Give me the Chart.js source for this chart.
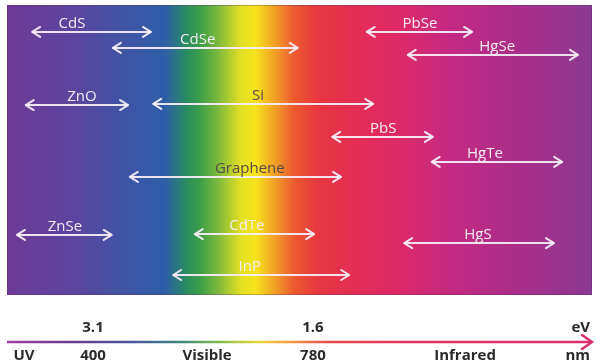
<!DOCTYPE html>
<html>
<head>
<meta charset="utf-8">
<script src="https://cdn.jsdelivr.net/npm/chart.js@4.4.1/dist/chart.umd.min.js"></script>
<style>
  html, body { margin: 0; padding: 0; background: #fff; }
  #wrap { width: 600px; height: 364px; position: relative; }
</style>
</head>
<body>
<div id="wrap"><canvas id="chart"></canvas></div>
<script>
// materials and their absorption ranges (x: 0 = UV edge, 100 = far IR edge)
const materials = ["CdS", "CdSe", "ZnO", "Si", "PbSe", "HgSe", "PbS", "HgTe", "Graphene", "ZnSe", "CdTe", "HgS", "InP"];
const rangeStart = [4.3, 18.1, 3.2, 25.0, 61.5, 68.5, 55.6, 72.6, 21.0, 1.7, 32.1, 67.9, 28.4];
const rangeEnd = [24.6, 49.7, 20.7, 62.6, 79.5, 97.6, 72.8, 94.9, 57.1, 17.9, 52.5, 93.5, 58.5];
const rowLevel = [9.3, 14.8, 34.5, 34.1, 9.3, 17.2, 45.5, 54.1, 59.3, 79.3, 79.0, 82.1, 93.1];
const labelAt = [11.1, 32.6, 12.8, 42.9, 70.6, 83.8, 64.3, 81.7, 41.5, 9.9, 41.0, 80.5, 41.5];

// bottom axis
const tickAt = [14.7, 52.3];
const eVTicks = ["3.1", "1.6"];
const nmTicks = ["400", "780"];
const regions = ["UV", "Visible", "Infrared"];
const regionAt = [2.9, 34.2, 78.3];

const darkLabels = ["Si", "Graphene"];

const specStops = [
  [0.0, "#6d3a96"], [0.12, "#5a459e"], [0.2, "#3f54a4"], [0.27, "#2d5ea9"],
  [0.305, "#2a8a63"], [0.33, "#3c9f47"], [0.36, "#7ab83c"], [0.4, "#e4e023"],
  [0.425, "#f6e31c"], [0.45, "#f3b023"], [0.49, "#ec5b30"], [0.53, "#e6383f"],
  [0.6, "#e42c57"], [0.67, "#dc2a68"], [0.76, "#c42a82"], [0.88, "#a82e8b"],
  [1.0, "#8a3a92"]
];
const axisStops = [
  [0.0, "#a0409c"], [0.1, "#6c3a92"], [0.22, "#4a56a0"], [0.3, "#3a8a78"],
  [0.37, "#8cc048"], [0.43, "#ead83a"], [0.48, "#f0a040"], [0.55, "#e6484a"],
  [0.7, "#e2305e"], [1.0, "#d83070"]
];

const arrowColor = "rgba(246,236,246,0.95)";

const datasets = materials.map((m, i) => ({
  label: m,
  data: [{ x: rangeStart[i], y: rowLevel[i] }, { x: rangeEnd[i], y: rowLevel[i] }],
  borderColor: arrowColor,
  borderWidth: 2,
  pointRadius: 0,
  showLine: true,
}));

const spectrumPlugin = {
  id: "spectrum",
  beforeDatasetsDraw(chart) {
    const { ctx, chartArea: a } = chart;
    const g = ctx.createLinearGradient(a.left, 0, a.right, 0);
    specStops.forEach(([p, c]) => g.addColorStop(p, c));
    ctx.save();
    ctx.fillStyle = g;
    ctx.fillRect(a.left, a.top, a.right - a.left, a.bottom - a.top);
    ctx.strokeStyle = "rgba(90,40,90,0.35)";
    ctx.lineWidth = 1;
    ctx.strokeRect(a.left + 0.5, a.top + 0.5, a.right - a.left - 1, a.bottom - a.top - 1);
    ctx.restore();
  },
  afterDatasetsDraw(chart) {
    const { ctx } = chart;
    ctx.save();
    ctx.lineWidth = 2;
    ctx.lineCap = "round";
    ctx.lineJoin = "round";
    ctx.strokeStyle = arrowColor;
    chart.data.datasets.forEach((ds, i) => {
      const pts = chart.getDatasetMeta(i).data;
      const p0 = pts[0], p1 = pts[1];
      ctx.beginPath();
      ctx.moveTo(p0.x + 8, p0.y - 5);
      ctx.lineTo(p0.x, p0.y);
      ctx.lineTo(p0.x + 8, p0.y + 5);
      ctx.moveTo(p1.x - 8, p1.y - 5);
      ctx.lineTo(p1.x, p1.y);
      ctx.lineTo(p1.x - 8, p1.y + 5);
      ctx.stroke();
      const lx = chart.scales.x.getPixelForValue(labelAt[i]);
      ctx.font = "15px 'Open Sans'";
      ctx.textAlign = "center";
      ctx.textBaseline = "alphabetic";
      ctx.fillStyle = darkLabels.includes(ds.label) ? "#5a4a4a" : "#f4ecf2";
      ctx.fillText(ds.label, lx, p0.y - 4);
    });
    ctx.restore();
  },
  afterDraw(chart) {
    const { ctx, chartArea: a } = chart;
    const x = chart.scales.x;
    const lineY = a.bottom + 47;
    const x0 = x.getPixelForValue(0), x1 = x.getPixelForValue(100);
    const g = ctx.createLinearGradient(x0, 0, x1, 0);
    axisStops.forEach(([p, c]) => g.addColorStop(p, c));
    ctx.save();
    ctx.strokeStyle = g;
    ctx.lineWidth = 2.5;
    ctx.beginPath();
    ctx.moveTo(x0, lineY);
    ctx.lineTo(x1 - 1, lineY);
    ctx.stroke();
    ctx.strokeStyle = "#d83070";
    ctx.lineWidth = 2.5;
    ctx.lineCap = "round";
    ctx.beginPath();
    ctx.moveTo(x1 - 10, lineY - 7);
    ctx.lineTo(x1, lineY);
    ctx.lineTo(x1 - 10, lineY + 7);
    ctx.stroke();

    ctx.font = "bold 15px 'Open Sans'";
    ctx.fillStyle = "#2a2a2a";
    ctx.textBaseline = "alphabetic";
    ctx.textAlign = "center";
    tickAt.forEach((v, i) => {
      const px = x.getPixelForValue(v);
      ctx.fillText(eVTicks[i], px, lineY - 10);
      ctx.fillText(nmTicks[i], px, lineY + 18);
    });
    regions.forEach((r, i) => {
      ctx.fillText(r, x.getPixelForValue(regionAt[i]), lineY + 18);
    });
    ctx.textAlign = "right";
    ctx.fillText("eV", x1 - 2, lineY - 10);
    ctx.fillText("nm", x1 - 2, lineY + 18);
    ctx.restore();
  }
};

new Chart(document.getElementById("chart"), {
  type: "scatter",
  data: { datasets },
  options: {
    responsive: true,
    maintainAspectRatio: false,
    animation: false,
    layout: { padding: { left: 7, right: 8, top: 5, bottom: 69 } },
    plugins: { legend: { display: false }, tooltip: { enabled: false } },
    scales: {
      x: { type: "linear", min: 0, max: 100, display: false },
      y: { type: "linear", min: 0, max: 100, reverse: true, display: false },
    },
  },
  plugins: [spectrumPlugin],
});
</script>
</body>
</html>
